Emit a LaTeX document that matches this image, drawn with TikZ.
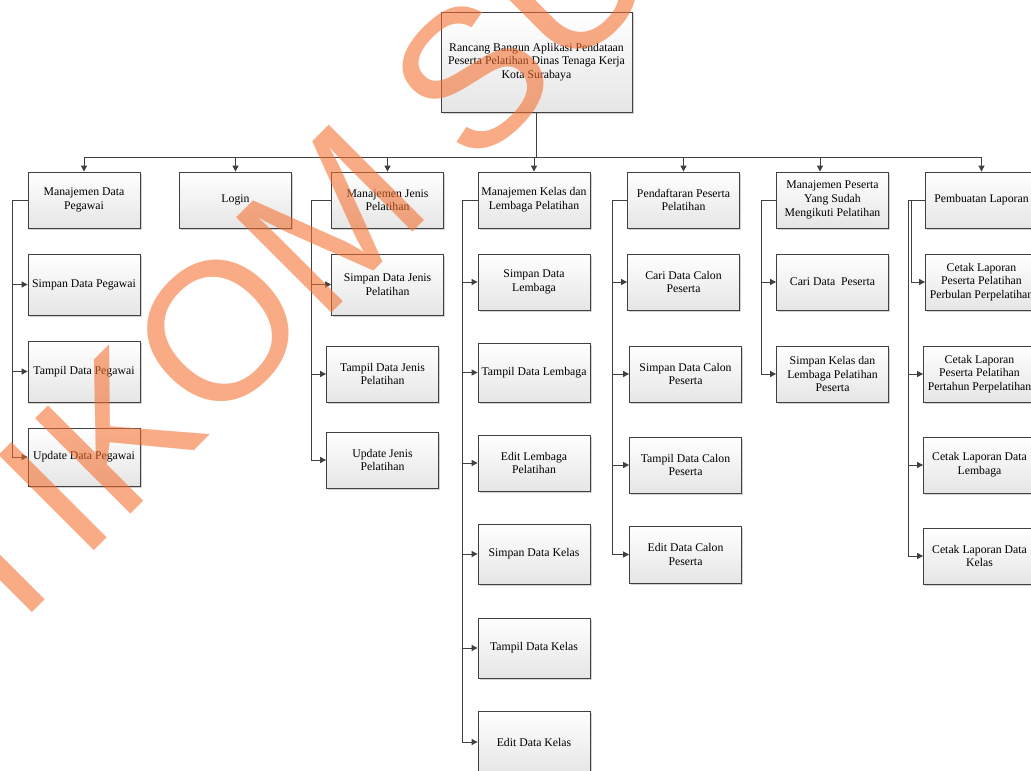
\documentclass[tikz,border=0pt]{standalone}
\usepackage{fontspec}
\setmainfont{Liberation Serif}
\newfontfamily\wmfont{Liberation Sans}
\usetikzlibrary{arrows.meta,shadows,calc}
\definecolor{oranye}{RGB}{244,110,45}

\begin{document}
\begin{tikzpicture}[x=1bp,y=-1bp,
        kotak/.style={draw=black!75,line width=0.8bp,top color=white,bottom color=black!10,
            drop shadow={shadow xshift=1.5bp,shadow yshift=-1.5bp,opacity=0.35},
            minimum width=112bp,minimum height=56bp,inner sep=1bp,align=center,
            font=\fontsize{11.8}{13.7}\selectfont},
        panah/.style={draw=black!75,line width=0.9bp,-{Triangle[length=6bp,width=6bp]}}]
        \useasboundingbox (0,0) rectangle (1031,771);
        \clip (0,0) rectangle (1031,771);
        \node[kotak,minimum width=191bp,minimum height=100bp] (root) at (536.5,62) {Rancang Bangun Aplikasi Pendataan\\Peserta Pelatihan Dinas Tenaga Kerja\\Kota Surabaya};
        %% menu utama
        \node[kotak] (mdp) at (84,200) {Manajemen Data\\Pegawai};
        \node[kotak] (login) at (235.5,200) {Login};
        \node[kotak] (mjp) at (387.5,200) {Manajemen Jenis\\Pelatihan};
        \node[kotak] (mkl) at (534,200) {Manajemen Kelas dan\\Lembaga Pelatihan};
        \node[kotak] (pdf) at (683.5,200) {Pendaftaran Peserta\\Pelatihan};
        \node[kotak] (mps) at (832.5,200) {Manajemen Peserta\\Yang Sudah\\Mengikuti Pelatihan};
        \node[kotak] (lap) at (981.5,200) {Pembuatan Laporan};
        %% pegawai
        \node[kotak,minimum height=61bp] (sdp) at (84,284.5) {Simpan Data Pegawai};
        \node[kotak,minimum height=61bp] (tdp) at (84,371.5) {Tampil Data Pegawai};
        \node[kotak,minimum height=58bp] (udp) at (84,457) {Update Data Pegawai};
        %% jenis pelatihan
        \node[kotak,minimum height=61bp] (sdj) at (387.5,284.5) {Simpan Data Jenis\\Pelatihan};
        \node[kotak] (tdj) at (382.5,374) {Tampil Data Jenis\\Pelatihan};
        \node[kotak] (ujp) at (382.5,460) {Update Jenis\\Pelatihan};
        %% kelas dan lembaga
        \node[kotak] (sdl) at (534,282) {Simpan Data\\Lembaga};
        \node[kotak,minimum height=59bp] (tdl) at (534,372.5) {Tampil Data Lembaga};
        \node[kotak] (elp) at (534,463) {Edit Lembaga\\Pelatihan};
        \node[kotak,minimum height=60bp] (sdk) at (534,554) {Simpan Data Kelas};
        \node[kotak,minimum height=60bp] (tdk) at (534,648) {Tampil Data Kelas};
        \node[kotak,minimum height=62bp] (edk) at (534,742) {Edit Data Kelas};
        %% pendaftaran
        \node[kotak] (cdc) at (683.5,282) {Cari Data Calon\\Peserta};
        \node[kotak] (sdc) at (685.5,374) {Simpan Data Calon\\Peserta};
        \node[kotak] (tdc) at (685.5,465) {Tampil Data Calon\\Peserta};
        \node[kotak,minimum height=57bp] (edc) at (685.5,554.5) {Edit Data Calon\\Peserta};
        %% peserta
        \node[kotak] (cdps) at (832.5,282) {Cari Data~ Peserta};
        \node[kotak] (skl) at (832.5,374) {Simpan Kelas dan\\Lembaga Pelatihan\\Peserta};
        %% laporan
        \node[kotak] (clb) at (981.5,282) {Cetak Laporan\\Peserta Pelatihan\\Perbulan Perpelatihan};
        \node[kotak] (clt) at (979.5,374) {Cetak Laporan\\Peserta Pelatihan\\Pertahun Perpelatihan};
        \node[kotak] (cld) at (979.5,465) {Cetak Laporan Data\\Lembaga};
        \node[kotak] (clk) at (979.5,556) {Cetak Laporan Data\\Kelas};
        %% garis
        \foreach \n in {mdp,login,mjp,mkl,pdf,lap}
            \draw[panah] (root.south) -- ++(0,45) -| (\n.north);
        \draw[panah] (root.south) -- ++(0,45) -| ($(mps.north)+(-12.5,0)$);
        \foreach \n in {sdp,tdp,udp}
            \draw[panah] (mdp.west) -- ++(-15,0) |- (\n.west);
        \foreach \n in {sdj,tdj,ujp}
            \draw[panah] (mjp.west) -- ++(-19.5,0) |- (\n.west);
        \foreach \n in {sdl,tdl,elp,sdk,tdk,edk}
            \draw[panah] (mkl.west) -- ++(-15,0) |- (\n.west);
        \foreach \n in {cdc,sdc,tdc,edc}
            \draw[panah] (pdf.west) -- ++(-14.5,0) |- (\n.west);
        \foreach \n in {cdps,skl}
            \draw[panah] (mps.west) -- ++(-14.5,0) |- (\n.west);
        \draw[panah] (lap.west) -- ++(-13.5,0) |- (clb.west);
        \foreach \n in {clt,cld,clk}
            \draw[panah] (lap.west) -- ++(-17,0) |- (\n.west);
        %% watermark
        \node[anchor=base west,rotate=45,inner sep=0pt,text=oranye,text opacity=0.58,
            font=\wmfont\fontsize{196bp}{200bp}\selectfont] (wm) at (-96,741) {STIKOM SURABAYA};
    \end{tikzpicture}
\end{document}
